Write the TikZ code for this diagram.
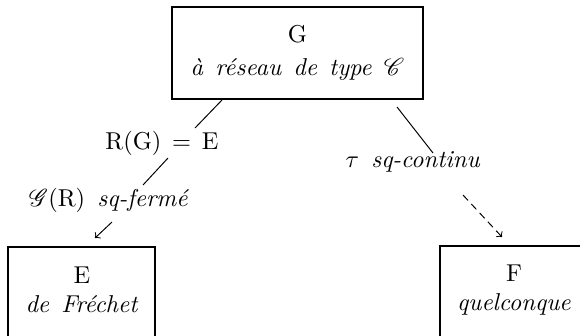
\documentclass[tikz,border=0pt]{standalone}
\usepackage{amsmath,amssymb,mathrsfs}
\usepackage{tikz}
\usetikzlibrary{positioning}

\begin{document}
\begin{tikzpicture}[x=0.41pt,y=-0.41pt,
  cadre/.style={draw,semithick,inner sep=0pt},
  txt/.style={align=center,inner sep=1pt}]
\useasboundingbox (0,0) rectangle (580,335);
\clip (0,0) rectangle (580,335);
% boxes
\node[cadre,minimum width=102.9pt,minimum height=37.7pt] (G) at (297.5,53) {};
\node[cadre,minimum width=60.3pt,minimum height=49.2pt] (E) at (81.5,307) {};
\node[cadre,minimum width=82pt,minimum height=49.2pt] (F) at (540,306) {};
\node[txt] (Gtxt) at (G.center) {G\\[1.5pt] \textit{à\enspace réseau\enspace de\enspace type}\enspace$\mathscr{C}$};
\node[txt] (Etxt) at (82,290) {E\\ \textit{de\enspace Fréchet}};
\node[txt] (Ftxt) at (514,290) {F\\ \textit{quelconque}};
% labels
\node[txt] (rg) at (162,143) {$\mathrm{R(G)}\,=\,\mathrm{E}$};
\node[txt] (gr) at (109,200) {$\mathscr{G}(\mathrm{R})$\enspace\textit{sq-fermé}};
\node[txt] (tau) at (413,162) {$\tau$\enspace\textit{sq-continu}};
% connectors
\coordinate (g1) at (222,100); \coordinate (g2) at (195,128);
\coordinate (g3) at (168,158); \coordinate (g4) at (143,185);
\coordinate (g5) at (112,222); \coordinate (g6) at (95,238);
\coordinate (h1) at (397,107); \coordinate (h2) at (433,153);
\coordinate (h3) at (463,195); \coordinate (h4) at (502,237);
\draw (g1)--(g2); \draw (g3)--(g4); \draw[->] (g5)--(g6);
\draw (h1)--(h2); \draw[->,dash pattern=on 3pt off 2pt] (h3)--(h4);
\end{tikzpicture}
\end{document}
